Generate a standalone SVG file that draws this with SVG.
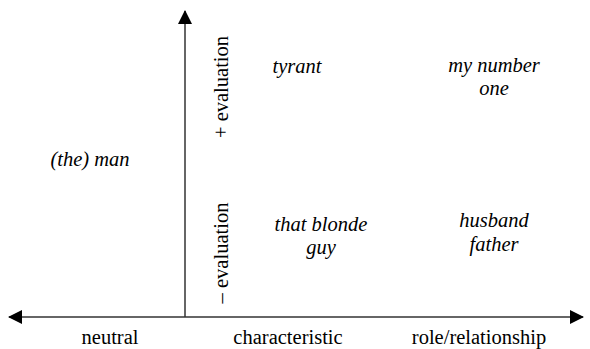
<svg xmlns="http://www.w3.org/2000/svg" width="590" height="349" viewBox="0 0 590 349">
<style>
.ax{stroke:#333;stroke-width:1.5;fill:none}
.lbl{font-family:'Liberation Serif','DejaVu Serif','Noto Serif',serif;font-size:20.5px;fill:#000;text-anchor:middle}
.it{font-style:italic}
</style>
<defs>
<marker id="ah" viewBox="0 0 14 14" refX="13" refY="7" markerWidth="14" markerHeight="14" markerUnits="userSpaceOnUse" orient="auto">
<path d="M0,0 L14,7 L0,14 Z" fill="#000"/>
</marker>
</defs>
<rect width="590" height="349" fill="#fff"/>
<g id="connectors">
<line class="ax" x1="185" y1="317" x2="185" y2="11" marker-end="url(#ah)"/>
<line class="ax" x1="185" y1="317" x2="9" y2="317" marker-end="url(#ah)"/>
<line class="ax" x1="185" y1="317" x2="583" y2="317" marker-end="url(#ah)"/>
</g>
<g id="axis-labels">
<text class="lbl" x="110" y="344">neutral</text>
<text class="lbl" x="288" y="344">characteristic</text>
<text class="lbl" x="479" y="344">role/relationship</text>
<text class="lbl" transform="translate(228,87) rotate(-90)">+ evaluation</text>
<text class="lbl" transform="translate(228,253) rotate(-90)">– evaluation</text>
</g>
<g id="node-man"><text class="lbl it" x="90" y="166">(the) man</text></g>
<g id="node-tyrant"><text class="lbl it" x="297" y="73">tyrant</text></g>
<g id="node-mynumberone"><text class="lbl it" x="494" y="72">my number</text><text class="lbl it" x="494" y="95">one</text></g>
<g id="node-blonde"><text class="lbl it" x="321" y="231">that blonde</text><text class="lbl it" x="321" y="254">guy</text></g>
<g id="node-husband"><text class="lbl it" x="494" y="227">husband</text><text class="lbl it" x="494" y="251">father</text></g>
</svg>
